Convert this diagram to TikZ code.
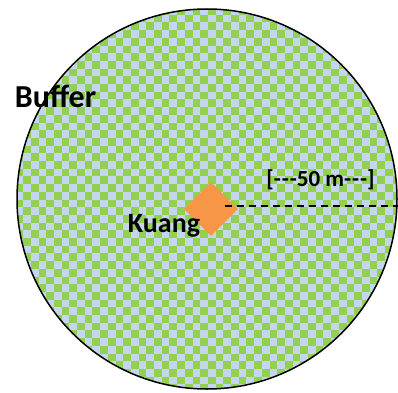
\documentclass[tikz,border=0pt]{standalone}
\usepackage{fontspec}
\setmainfont{Carlito}
\definecolor{chkgreen}{HTML}{92D050}
\definecolor{chkblue}{HTML}{C6D5EE}
\definecolor{kuangorange}{HTML}{F79646}
\tikzset{
  lbl/.style={font=\bfseries, anchor=base, inner sep=0pt},
  bufcircle/.style={draw=black, line width=1.5pt},
  site/.style={fill=kuangorange, minimum size=38pt, inner sep=0pt, rotate=45},
  radius line/.style={dash pattern=on 7pt off 5pt, line width=1.3pt}
}
\begin{document}
\begin{tikzpicture}[x=1pt,y=1pt]
\useasboundingbox (0,0) rectangle (398,392);
\begin{scope}
  \clip (207,193) circle (190);
  \fill[chkblue] (207,193) circle (190);
  \foreach \i in {0,...,52} {
    \foreach \j in {0,...,51} {
      \pgfmathtruncatemacro{\myparity}{mod(\i+\j,2)}
      \ifnum\myparity=0
        \fill[chkgreen] (\i*7.7,\j*7.7) rectangle ++(7.7,7.7);
      \fi
    }
  }
\end{scope}
\draw[bufcircle] (207,193) circle (190);
\node[site] (kuang) at (211,183) {};
\coordinate (edge) at (398,186);
\draw[radius line] (kuang.east |- edge) -- (edge);
\node[lbl, font=\fontsize{32}{37}\selectfont\bfseries] (buffer) at (55.5,285) {Buffer};
\node[lbl, font=\fontsize{28}{33}\selectfont\bfseries] (kname) at (164,160) {Kuang};
\node[lbl, font=\fontsize{23}{27}\selectfont\bfseries] (dist) at (320.5,206) {[-\kern1pt-\kern1pt-50 m-\kern1pt-\kern1pt-]};
\end{tikzpicture}
\end{document}
